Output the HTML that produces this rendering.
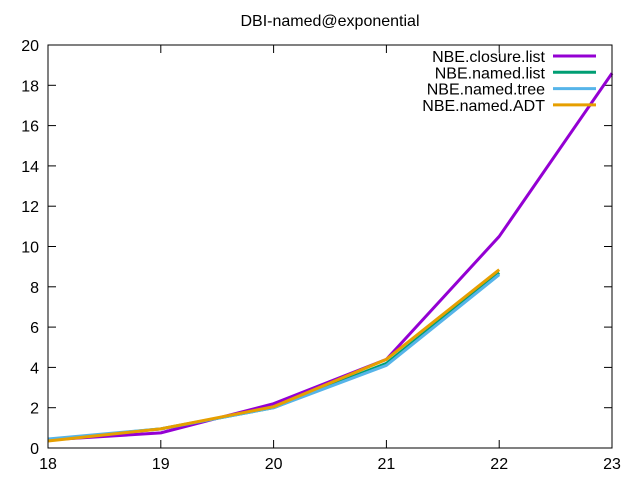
<!DOCTYPE html>
<html><head><meta charset="utf-8"><style>
body{margin:0;background:#fff}
svg text{font-family:"Liberation Sans",sans-serif;font-size:16px;fill:#000}
</style></head><body>
<svg id="chart" width="640" height="480" viewBox="0 0 640 480">
<rect width="640" height="480" fill="#fff"/>
<text x="330" y="26" text-anchor="middle">DBI-named@exponential</text>
<g id="axes"></g>
<g id="series"></g>
<g id="legend"></g>
<rect x="48" y="45" width="564" height="403" fill="none" stroke="#000" stroke-width="1"/>
</svg>
<script>
const xCats = [18, 19, 20, 21, 22, 23];
const yTicks = [0, 2, 4, 6, 8, 10, 12, 14, 16, 18, 20];
const seriesNames = ["NBE.closure.list", "NBE.named.list", "NBE.named.tree", "NBE.named.ADT"];
const closureList = [0.4, 0.75, 2.2, 4.4, 10.5, 18.6];
const namedList = [0.4, 0.95, 2.0, 4.2, 8.7];
const namedTree = [0.45, 0.95, 2.0, 4.1, 8.6];
const namedADT = [0.35, 0.95, 2.05, 4.4, 8.85];
const colors = ["#9400d3", "#009e73", "#56b4e9", "#e69f00"];
const allSeries = [closureList, namedList, namedTree, namedADT];

const X0 = 48, X1 = 612, Y0 = 448, Y1 = 45;
const xs = v => X0 + (v - 18) / 5 * (X1 - X0);
const ys = v => Y0 - v / 20 * (Y0 - Y1);
const NS = "http://www.w3.org/2000/svg";
const axes = document.getElementById('axes');
function mk(tag, attrs, parent) {
  const e = document.createElementNS(NS, tag);
  for (const k in attrs) e.setAttribute(k, attrs[k]);
  parent.appendChild(e);
  return e;
}
yTicks.forEach(t => {
  const y = ys(t);
  const l1 = mk('line', {x1: X0, x2: X0 + 8, y1: y, y2: y, stroke: '#000'}, axes);
  
  
  mk('line', {x1: X1, x2: X1 - 8, y1: y, y2: y, stroke: '#000'}, axes);
  const tx = mk('text', {x: X0 - 9, y: y + 6, 'text-anchor': 'end'}, axes);
  tx.textContent = t;
  
  
});
xCats.forEach(c => {
  const x = xs(c);
  const l1 = mk('line', {x1: x, x2: x, y1: Y0, y2: Y0 - 8, stroke: '#000'}, axes);
  
  
  mk('line', {x1: x, x2: x, y1: Y1, y2: Y1 + 8, stroke: '#000'}, axes);
  const tx = mk('text', {x: x, y: Y0 + 21, 'text-anchor': 'middle'}, axes);
  tx.textContent = c;
  
  
});
const sg = document.getElementById('series');
const lg = document.getElementById('legend');
allSeries.forEach((s, i) => {
  const pts = s.map((v, j) => xs(xCats[j]) + ',' + ys(v)).join(' ');
  const pl = mk('polyline', {points: pts, fill: 'none', stroke: colors[i], 'stroke-width': 3, 'stroke-linejoin': 'round'}, sg);
  
  
  const y = 56 + i * 16.3;
  const t = mk('text', {x: 545, y: y + 6, 'text-anchor': 'end'}, lg);
  t.textContent = seriesNames[i];
  
  
  const l = mk('line', {x1: 553, x2: 596, y1: y, y2: y, stroke: colors[i], 'stroke-width': 3}, lg);
  
  
});
</script>
</body></html>
